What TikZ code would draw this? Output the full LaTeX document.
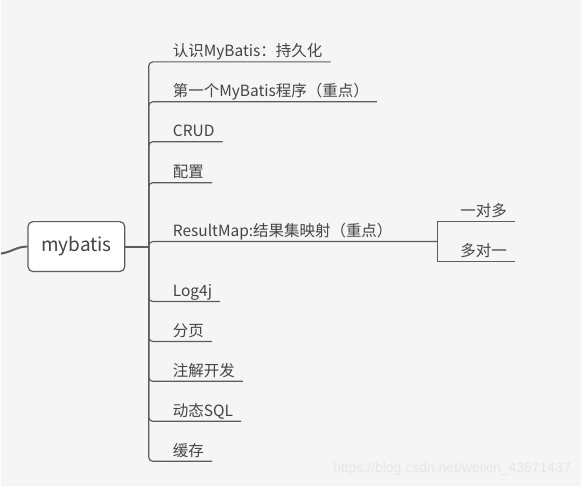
\documentclass[tikz,border=0pt]{standalone}
\usepackage{fontspec}
\setmainfont{Noto Sans CJK SC}
\newfontfamily\wmfont{Liberation Sans}
\usetikzlibrary{positioning}
\definecolor{bgcol}{HTML}{F5F5F5}
\definecolor{linecol}{HTML}{5C5C5C}
\definecolor{txtcol}{HTML}{444444}
\definecolor{wmcol}{HTML}{E6E6E6}

\begin{document}
\begin{tikzpicture}[x=1pt,y=-1pt,
    topic/.style={anchor=south west,inner xsep=8pt,inner ysep=5pt,text depth=0pt,
                  text=txtcol,font=\fontsize{15.5}{18}\selectfont},
    branch/.style={draw=linecol,line width=1.2pt,rounded corners=4pt},
    central/.style={draw=linecol,fill=white,rounded corners=5pt,line width=1.2pt,
                    minimum width=97pt,minimum height=50pt,text=txtcol,
                    font=\fontsize{19}{22}\selectfont}]

  \fill[bgcol] (0,0) rectangle (581,487);

  \node[central] (root) at (75.5,247) {mybatis};
  \coordinate (tail)  at (0,254);
  \coordinate (trunk) at (148,247);
  \coordinate (fork)  at (437,242);

  \node[topic] (b1)  at (164,62)  {认识MyBatis：持久化};
  \node[topic] (b2)  at (164,102) {第一个MyBatis程序（重点）};
  \node[topic] (b3)  at (164,142) {CRUD};
  \node[topic] (b4)  at (164,183) {配置};
  \node[topic] (b5)  at (164,242) {ResultMap:结果集映射（重点）};
  \node[topic] (b6)  at (164,302) {Log4j};
  \node[topic] (b7)  at (164,342) {分页};
  \node[topic] (b8)  at (164,382) {注解开发};
  \node[topic] (b9)  at (164,422) {动态SQL};
  \node[topic] (b10) at (164,462) {缓存};

  \node[topic] (s1) at (452,222) {一对多};
  \node[topic] (s2) at (452,262) {多对一};

  % root links
  \draw[linecol,line width=2pt] (root.west) to[out=180,in=8] (tail);
  \draw[linecol,line width=2pt] (root.east) -- (trunk);

  % branches
  \draw[branch] (trunk) |- (b1.south east);
  \draw[branch] (trunk) |- (b2.south east);
  \draw[branch] (trunk) |- (b3.south east);
  \draw[branch] (trunk) |- (b4.south east);
  \draw[branch] (trunk) |- (fork);
  \draw[branch] (trunk) |- (b6.south east);
  \draw[branch] (trunk) |- (b7.south east);
  \draw[branch] (trunk) |- (b8.south east);
  \draw[branch] (trunk) |- (b9.south east);
  \draw[branch] (trunk) |- (b10.south east);

  \draw[branch,rounded corners=0pt] (fork) |- (s1.south east);
  \draw[branch,rounded corners=0pt] (fork) |- (s2.south east);

  \node[anchor=base east,text=wmcol,font=\wmfont\fontsize{14}{16}\selectfont,inner sep=0pt]
    (mark) at (571,473) {https://blog.csdn.net/weixin\_43671437};

\end{tikzpicture}
\end{document}
